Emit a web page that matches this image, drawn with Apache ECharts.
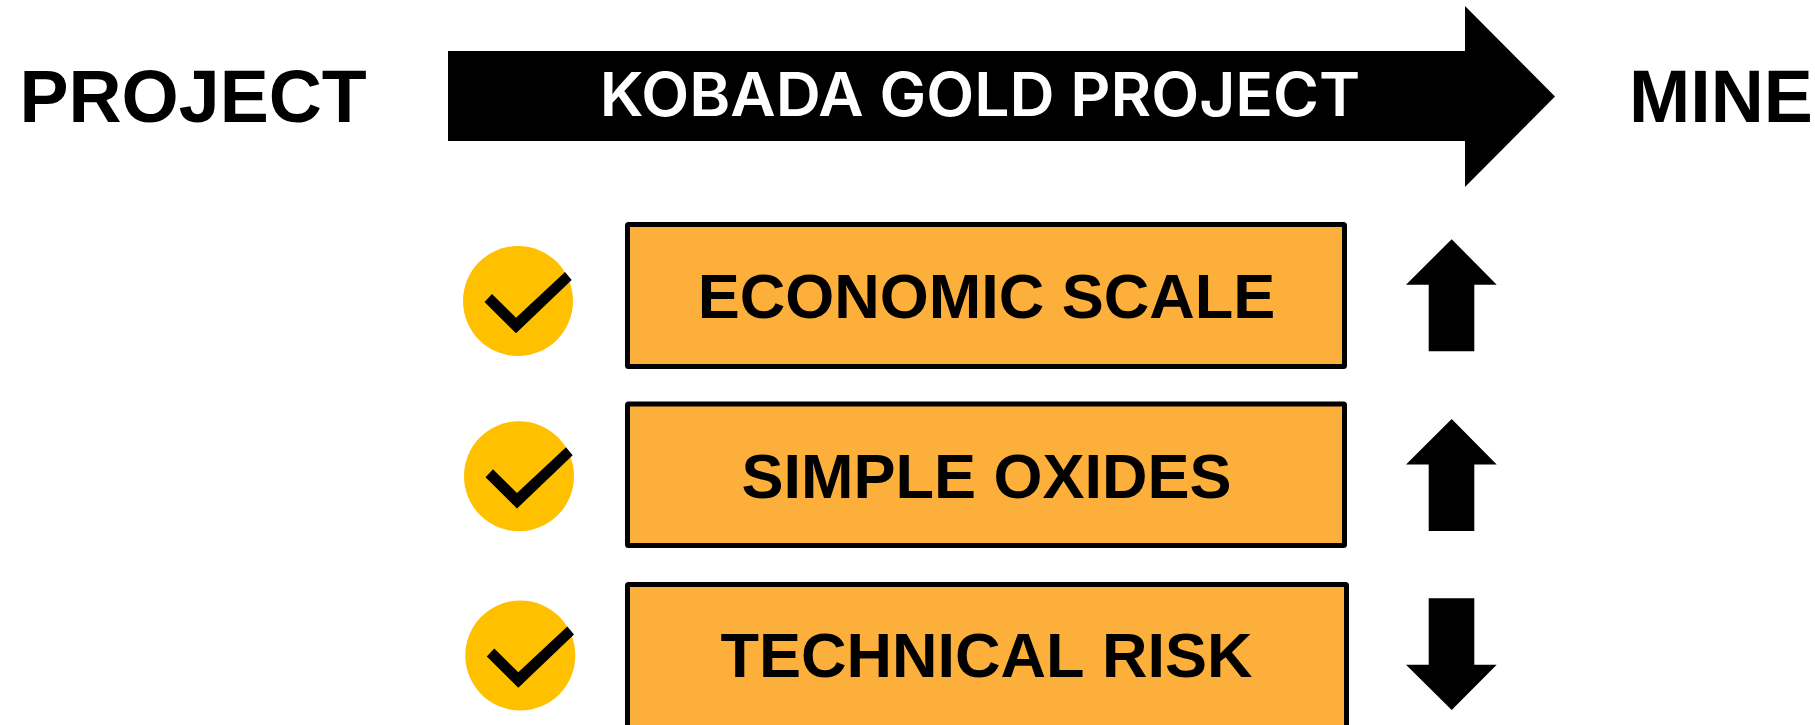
<!DOCTYPE html>
<html>
<head>
<meta charset="utf-8">
<title>Kobada Gold Project</title>
<script src="https://cdn.jsdelivr.net/npm/echarts@6/dist/echarts.min.js"></script>
<style>
html, body { margin: 0; padding: 0; background: #fff; overflow: hidden; }
#grid { width: 1815px; height: 725px; }
</style>
</head>
<body>
<div id="grid"></div>
<script>
// content
let stages = ['PROJECT', 'MINE'];
let banner = ['KOBADA GOLD PROJECT'];
let factors = ['ECONOMIC SCALE', 'SIMPLE OXIDES', 'TECHNICAL RISK'];
let directions = ['up', 'up', 'down'];

const SANS = '"Liberation Sans", Arial, sans-serif';
const BLACK = '#000';

// layout, in page pixels (the hidden axes map 1:1 to the page)
const stageX = [19.5, 1629];
const rowBox = [[627.5, 224.5, 1344.5, 366.5], [627.5, 404, 1344.5, 545.5], [627.5, 584.5, 1346.5, 727.5]];
const rowCircle = [[518, 301], [519, 476.2], [520.3, 655.5]];
const rowArrowTop = [239.3, 419, 598.3];
const rowTextY = [300.5, 480.5, 660];

function polygon(api, pts) {
    return {
        type: 'polygon',
        shape: { points: pts.map(function (p) { return api.coord(p); }) },
        style: { fill: BLACK }
    };
}

function renderBanner(params, api) {
    let c = api.coord([980, 98]);
    return {
        type: 'group',
        children: [
            polygon(api, [[448, 51], [1465, 51], [1465, 6], [1555, 96.5], [1465, 187], [1465, 141], [448, 141]]),
            {
                type: 'text',
                x: c[0],
                y: c[1],
                scaleX: 1.04,
                style: {
                    x: 0, y: 0, text: banner[api.value(0)],
                    font: '600 60px Inter, sans-serif',
                    fill: '#fff', align: 'center', verticalAlign: 'middle'
                }
            }
        ]
    };
}

function renderStage(params, api) {
    let i = api.value(0);
    let p = api.coord([stageX[i], 102]);
    return {
        type: 'text',
        style: {
            x: p[0], y: p[1], text: stages[i],
            font: 'bold 73.5px ' + SANS,
            fill: BLACK, align: 'left', verticalAlign: 'middle'
        }
    };
}

function renderRow(params, api) {
    let i = api.value(0);
    let b = rowBox[i];
    let tl = api.coord([b[0], b[1]]);
    let br = api.coord([b[2], b[3]]);
    let c = rowCircle[i];
    let cc = api.coord(c);
    let t = rowArrowTop[i];
    let tp = api.coord([986.5, rowTextY[i]]);
    let arrow;
    if (directions[i] === 'up') {
        arrow = [[1451.7, t], [1496.7, t + 45.4], [1474.3, t + 45.4], [1474.3, t + 112], [1428.7, t + 112], [1428.7, t + 45.4], [1406, t + 45.4]];
    } else {
        arrow = [[1428.7, t], [1474.3, t], [1474.3, t + 66.4], [1496.7, t + 66.4], [1451.7, t + 111.7], [1406, t + 66.4], [1428.7, t + 66.4]];
    }
    let check = [[-33.5, 1], [-26, -7], [-2, 16.7], [47, -29], [53.7, -21], [-2, 32.3]].map(function (d) {
        return [c[0] + d[0], c[1] + d[1]];
    });
    return {
        type: 'group',
        children: [
            {
                type: 'circle',
                shape: { cx: cc[0], cy: cc[1], r: 55 },
                style: { fill: '#FFC000' }
            },
            polygon(api, check),
            {
                type: 'rect',
                shape: { x: tl[0], y: tl[1], width: br[0] - tl[0], height: br[1] - tl[1], r: 1 },
                style: { fill: '#FCB03B', stroke: BLACK, lineWidth: 5, lineJoin: 'round' }
            },
            {
                type: 'text',
                style: {
                    x: tp[0], y: tp[1], text: factors[i],
                    font: 'bold 63px ' + SANS,
                    fill: BLACK, align: 'center', verticalAlign: 'middle'
                }
            },
            polygon(api, arrow)
        ]
    };
}

let option = {
    animation: false,
    backgroundColor: '#fff',
    grid: { left: 0, right: 0, top: 0, bottom: 0 },
    xAxis: { type: 'value', min: 0, max: 1815, show: false },
    yAxis: { type: 'value', min: 0, max: 725, inverse: true, show: false },
    series: [
        { name: 'banner', type: 'custom', clip: false, silent: true, coordinateSystem: 'cartesian2d', encode: { x: 0, y: 1 }, data: [[0, 0]], renderItem: renderBanner },
        { name: 'stages', type: 'custom', clip: false, silent: true, coordinateSystem: 'cartesian2d', encode: { x: 0, y: 1 }, data: stages.map(function (s, i) { return [i, 0]; }), renderItem: renderStage },
        { name: 'factors', type: 'custom', clip: false, silent: true, coordinateSystem: 'cartesian2d', encode: { x: 0, y: 1 }, data: factors.map(function (s, i) { return [i, 0]; }), renderItem: renderRow }
    ]
};

let myChart = echarts.init(document.getElementById('grid'));
myChart.setOption(option);
</script>
</body>
</html>
